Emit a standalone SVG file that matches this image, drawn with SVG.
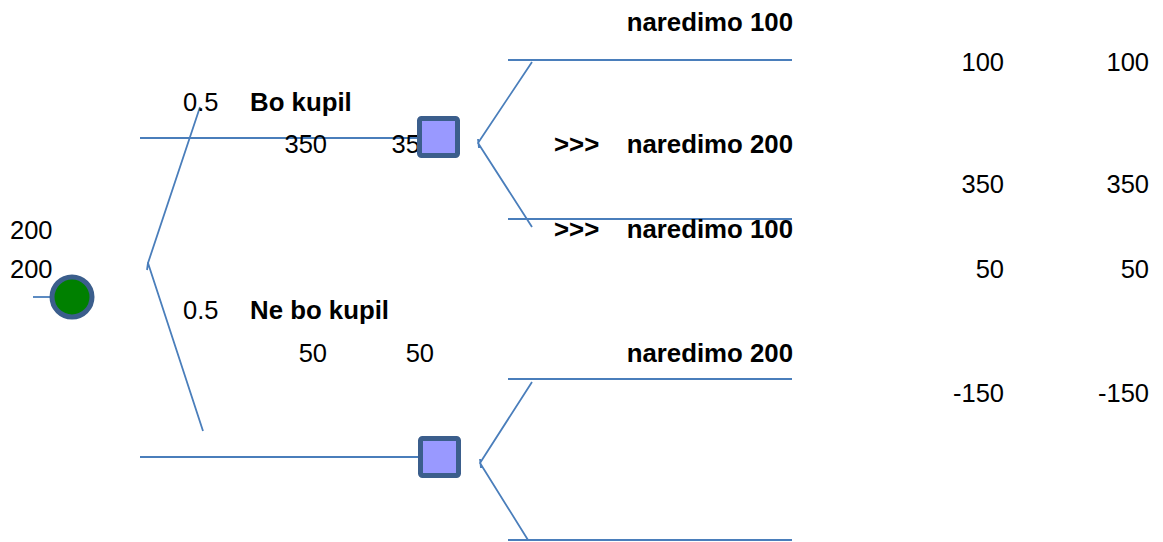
<svg xmlns="http://www.w3.org/2000/svg" width="1163" height="542" viewBox="0 0 1163 542">
<style>
  .ln{stroke:#4A7EBB;stroke-width:1.8;fill:none}
  .t{font-family:"Liberation Sans",Arial,sans-serif;font-size:25.5px;fill:#000}
  .b{font-weight:bold;font-size:25.8px}
  .e{text-anchor:end}
  .dec{fill:#9999FF;stroke:#3B5E8C;stroke-width:5}
  .chance{fill:#008000;stroke:#3B5E8C;stroke-width:5}
</style>
<rect width="1163" height="542" fill="#fff"/>
<g id="connectors">
  <line class="ln" x1="33" y1="297" x2="52" y2="297"/>
  <path class="ln" d="M200,107 L148,263 L203,431 M148,263 L147,270"/>
  <line class="ln" x1="140" y1="138" x2="420" y2="138"/>
  <line class="ln" x1="140" y1="457" x2="420" y2="457"/>
  <path class="ln" d="M532,62 L478,143 L532,227 M478,139 L479,148"/>
  <line class="ln" x1="508" y1="60" x2="792" y2="60"/>
  <line class="ln" x1="508" y1="219" x2="792" y2="219"/>
  <path class="ln" d="M532,382 L480,463 L528,540 M480,459 L481,468"/>
  <line class="ln" x1="508" y1="379" x2="792" y2="379"/>
  <line class="ln" x1="508" y1="540" x2="792" y2="540"/>
</g>
<g id="labels">
  <text class="t" x="10" y="239">200</text>
  <text class="t" x="10" y="278">200</text>
  <text class="t" x="183" y="111">0.5</text>
  <text class="t b" x="250" y="111">Bo kupil</text>
  <text class="t e" x="327" y="153">350</text>
  <text class="t e" x="434" y="153">350</text>
  <text class="t" x="183" y="319">0.5</text>
  <text class="t b" x="250" y="319">Ne bo kupil</text>
  <text class="t e" x="327" y="362">50</text>
  <text class="t e" x="434" y="362">50</text>
  <text class="t b e" x="793" y="31">naredimo 100</text>
  <text class="t b" x="554" y="153">&gt;&gt;&gt;</text>
  <text class="t b e" x="793" y="153">naredimo 200</text>
  <text class="t b" x="554" y="238">&gt;&gt;&gt;</text>
  <text class="t b e" x="793" y="238">naredimo 100</text>
  <text class="t b e" x="793" y="362">naredimo 200</text>
  <text class="t e" x="1004" y="71">100</text>
  <text class="t e" x="1149" y="71">100</text>
  <text class="t e" x="1004" y="193">350</text>
  <text class="t e" x="1149" y="193">350</text>
  <text class="t e" x="1004" y="278">50</text>
  <text class="t e" x="1149" y="278">50</text>
  <text class="t e" x="1004" y="402">-150</text>
  <text class="t e" x="1149" y="402">-150</text>
</g>
<g id="chance-node">
  <circle class="chance" cx="72" cy="297" r="20"/>
</g>
<g id="decision-node-1">
  <rect class="dec" x="419.5" y="118.5" width="38" height="37" rx="2"/>
</g>
<g id="decision-node-2">
  <rect class="dec" x="420.5" y="438.5" width="38" height="37" rx="2"/>
</g>
</svg>
